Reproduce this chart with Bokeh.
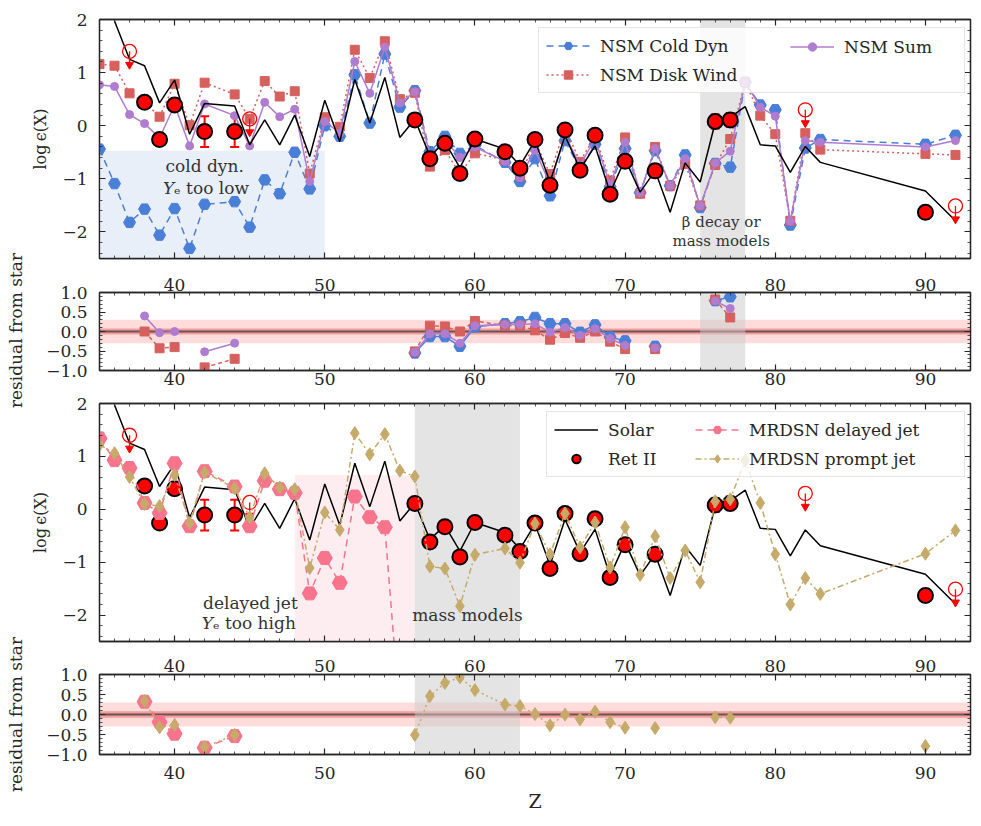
from bokeh.plotting import figure
from bokeh.models import (Range1d, LinearAxis, SingleIntervalTicker, CustomJSTickFormatter,
                          BoxAnnotation, Span, Label, Legend, LegendItem, Whisker, TeeHead,
                          ColumnDataSource)
from bokeh.layouts import column, row
from bokeh.embed import file_html
from bokeh.resources import INLINE

# ---------------- data ----------------
z_model = [35, 36, 37, 38, 39, 40, 41, 42, 44, 45, 46, 47, 48, 49, 50, 51, 52, 53, 54, 55, 56, 57, 58,
           59, 60, 62, 63, 64, 65, 66, 67, 68, 69, 70, 71, 72, 73, 74, 75, 76, 77, 78, 79, 80, 81, 82,
           83, 90, 92]
nsm_cold_dyn = [-0.44, -1.09, -1.82, -1.57, -2.06, -1.56, -2.31, -1.48, -1.43, -1.91, -1.02, -1.28,
                -0.50, -1.19, 0.00, -0.20, 0.96, 0.05, 1.35, 0.35, 0.66, -0.49, -0.20, -0.52, -0.37,
                -0.69, -1.05, -0.62, -1.32, -0.28, -0.82, -0.35, -1.15, -0.43, -1.26, -0.47, -1.13,
                -0.55, -1.54, -0.71, -0.78, 0.82, 0.39, 0.30, -1.87, -0.42, -0.26, -0.35, -0.18]
nsm_disk_wind = [1.16, 1.13, 0.61, 0.44, 0.17, 0.79, 0.01, 0.81, 0.59, 0.13, 0.84, 0.55, 0.65, -0.90,
                 0.16, -0.02, 1.43, 0.90, 1.59, 0.50, 0.62, -0.77, -0.46, -0.90, -0.52, -0.64, -0.95,
                 -0.29, -0.91, -0.04, -0.68, -0.18, -1.03, -0.22, -1.28, -0.40, -1.13, -0.72, -1.50,
                 -0.74, -0.25, 0.82, 0.19, -0.16, -1.79, -0.14, -0.45, -0.53, -0.55]
nsm_sum = [0.77, 0.74, 0.21, 0.04, -0.23, 0.39, -0.38, 0.41, 0.19, -0.38, 0.44, 0.17, 0.31, -1.05,
           0.08, -0.14, 1.21, 0.61, 1.48, 0.43, 0.64, -0.56, -0.27, -0.60, -0.40, -0.67, -0.98, -0.46,
           -1.10, -0.18, -0.74, -0.25, -1.11, -0.31, -1.26, -0.43, -1.13, -0.62, -1.51, -0.70, -0.48,
           0.82, 0.35, 0.18, -1.80, -0.28, -0.31, -0.40, -0.28]
mrdsn_prompt = [1.22, 1.06, 0.61, 0.10, 0.06, 0.65, -0.26, 0.70, 0.40, -0.15, 0.68, 0.41, 0.38, -1.11,
                -0.06, -0.39, 1.44, 1.04, 1.42, 0.73, 0.62, -1.08, -1.12, -1.83, -0.86, -0.74, -1.01,
                -0.27, -0.85, -0.08, -0.72, -0.25, -1.10, -0.34, -1.24, -0.51, -1.30, -0.78, -1.38,
                0.15, 0.19, 0.92, 0.12, -0.85, -1.80, -1.30, -1.60, -0.84, -0.40]
z_delayed = [35, 36, 37, 38, 39, 40, 41, 42, 44, 45, 46, 47, 48, 49, 50, 51, 52, 53, 54, 55]
mrdsn_delayed = [1.34, 0.93, 0.78, 0.12, -0.07, 0.87, -0.32, 0.72, 0.43, -0.32, 0.54, 0.38, 0.31,
                 -1.59, -0.92, -1.39, 0.24, -0.15, -0.34, -3.9]
z_solar = [36, 37, 38, 39, 40, 41, 42, 44, 45, 46, 47, 48, 49, 50, 51, 52, 53, 54, 55, 56, 57, 58, 59,
           60, 62, 63, 64, 65, 66, 67, 68, 69, 70, 71, 72, 73, 74, 75, 76, 77, 78, 79, 80, 81, 82, 83,
           90, 92]
solar = [1.97, 1.25, 1.13, 0.43, 0.86, -0.16, 0.42, 0.37, -0.36, 0.11, -0.36, 0.20, -0.58, 0.48, -0.30,
         0.87, 0.05, 0.91, -0.22, 0.12, -0.57, -0.31, -0.79, -0.25, -0.44, -0.75, -0.28, -1.06, -0.19,
         -0.82, -0.38, -1.26, -0.63, -1.25, -0.85, -1.63, -0.70, -1.06, 0.06, 0.16, 0.36, -0.36, -0.38,
         -0.88, -0.39, -0.69, -1.23, -1.79]
ret_z = [38, 39, 40, 42, 44, 56, 57, 58, 59, 60, 62, 63, 64, 65, 66, 67, 68, 69, 70, 72, 76, 77, 90]
ret_val = [0.44, -0.26, 0.39, -0.11, -0.11, 0.11, -0.62, -0.33, -0.90, -0.25, -0.49, -0.80, -0.26,
           -1.12, -0.08, -0.84, -0.18, -1.29, -0.67, -0.85, 0.08, 0.11, -1.63]
ret_err = [0.10, 0.05, 0.05, 0.29, 0.29, 0.10, 0.05, 0.05, 0.05, 0.05, 0.05, 0.05, 0.05, 0.05, 0.05,
           0.05, 0.05, 0.08, 0.12, 0.12, 0.13, 0.13, 0.12]
ul_z = [37, 45, 82, 92]
ul_val = [1.40, 0.13, 0.30, -1.51]

# ---------------- style ----------------
FONT = "DejaVu Serif"
INK = "#262626"
C_COLD = "#4a7fd8"
C_DISK = "#d6605e"
C_SUM = "#b07cd0"
C_DEL = "#f7748c"
C_PRO = "#c6aa6a"
ARROW = 0.25

STRIP = 26
FRAME_W = 871
LEFT = 73
RIGHT = 8

obs = dict(zip(ret_z, ret_val))


def resid(zs, vals):
    return [obs[z] - v if z in obs else float("nan") for z, v in zip(zs, vals)]


def style_axis(ax, show, digits=0, standoff=0):
    ax.major_tick_in = 6
    ax.major_tick_out = 0
    ax.minor_tick_in = 3
    ax.minor_tick_out = 0
    ax.axis_line_color = INK
    ax.axis_line_width = 1.3
    ax.major_tick_line_color = INK
    ax.major_tick_line_width = 1.2
    ax.minor_tick_line_color = INK
    ax.minor_tick_line_width = 0.8
    ax.major_label_text_font = FONT
    ax.major_label_text_font_size = "17px"
    ax.major_label_text_color = INK
    if show:
        ax.formatter = CustomJSTickFormatter(
            code="return tick.toFixed(%d).replace('-', '\\u2212');" % digits)
        ax.major_label_standoff = standoff
    else:
        ax.formatter = CustomJSTickFormatter(code="return '';")
        ax.major_label_standoff = 0


def make_panel(height, ylo, yhi, ystep, top, bottom, ydigits,
               above=None, below=None, ylabel=None, xlabel=None):
    p = figure(width=LEFT + FRAME_W + RIGHT, height=height,
               x_range=Range1d(35, 93), y_range=Range1d(ylo, yhi),
               x_axis_type=None, y_axis_type=None,
               output_backend="svg", toolbar_location=None,
               min_border_left=LEFT, min_border_right=RIGHT,
               min_border_top=top, min_border_bottom=bottom)
    p.outline_line_color = INK
    p.outline_line_width = 1.3
    for place, standoff in (("below", below), ("above", above)):
        ax = LinearAxis(ticker=SingleIntervalTicker(interval=10, num_minor_ticks=10))
        style_axis(ax, standoff is not None, 0, standoff or 0)
        if place == "below" and xlabel:
            ax.axis_label = xlabel
            ax.axis_label_text_font = FONT
            ax.axis_label_text_font_size = "19px"
            ax.axis_label_text_font_style = "normal"
            ax.axis_label_text_color = INK
            ax.axis_label_standoff = 8
        p.add_layout(ax, place)
    for place, show in (("left", True), ("right", False)):
        ax = LinearAxis(ticker=SingleIntervalTicker(interval=ystep, num_minor_ticks=5))
        style_axis(ax, show, ydigits, 12)
        if place == "left" and ylabel:
            ax.axis_label = ylabel
            ax.axis_label_text_font = FONT
            ax.axis_label_text_font_size = "16px"
            ax.axis_label_text_font_style = "normal"
            ax.axis_label_text_color = INK
            ax.axis_label_standoff = 9
        p.add_layout(ax, place)
    return p


def note(p, x, y, txt, size="17px", align="center", offset=0, style="normal"):
    p.add_layout(Label(x=x, y=y, x_offset=offset, text=txt, text_align=align,
                       text_baseline="middle", text_font=FONT, text_font_size=size,
                       text_font_style=style, text_color="#333333"))


def ye_note(p, x, y, rest, offset):
    note(p, x, y, "Y", align="right", offset=offset, style="italic")
    note(p, x, y, "\u2091 " + rest, align="left", offset=offset)


def resid_band(p):
    p.add_layout(BoxAnnotation(bottom=-0.3, top=0.3, fill_color="#ffdcdc", fill_alpha=1,
                               line_color=None, level="underlay"))
    p.add_layout(BoxAnnotation(bottom=-0.08, top=0.08, fill_color="#f59d9d", fill_alpha=1,
                               line_color=None, level="underlay"))
    p.add_layout(Span(location=0, dimension="width", line_color="#444444", line_width=2,
                      line_alpha=0.8, level="underlay"))


def model(p, zs, vals, color, dash, marker, size):
    lr = p.line(zs, vals, line_color=color, line_width=1.5, line_dash=dash)
    sr = p.scatter(zs, vals, marker=marker, size=size, fill_color=color, line_color=color)
    return [lr, sr]


def observations(p):
    src = ColumnDataSource(dict(z=ret_z, v=ret_val,
                                hi=[v + e for v, e in zip(ret_val, ret_err)],
                                lo=[v - e for v, e in zip(ret_val, ret_err)]))
    p.add_layout(Whisker(source=src, base="z", upper="hi", lower="lo", dimension="height",
                         line_color="red", line_width=2,
                         upper_head=TeeHead(size=9, line_color="red", line_width=2),
                         lower_head=TeeHead(size=9, line_color="red", line_width=2)))
    r = p.scatter("z", "v", source=src, marker="circle", size=15, fill_color="red",
                  line_color="black", line_width=2)
    tip = [v - ARROW for v in ul_val]
    p.segment(x0=ul_z, y0=ul_val, x1=ul_z, y1=tip, line_color="red", line_width=1.3)
    p.scatter(ul_z, tip, marker="inverted_triangle", size=8, fill_color="red", line_color="red")
    p.scatter(ul_z, ul_val, marker="circle", size=14, fill_color=None, line_color="red",
              line_width=1.3)
    return r


def legend_pair(p, col1, col2, label_width, loc1, loc2):
    box = Legend(items=col1, label_width=label_width, location=loc1)
    over = Legend(items=col2, location=loc2)
    for lg in (box, over):
        lg.orientation = "vertical"
        lg.label_text_font = FONT
        lg.label_text_font_size = "17px"
        lg.label_text_color = INK
        lg.glyph_width = 44
        lg.glyph_height = 21
        lg.label_standoff = 10
        lg.spacing = 8
        lg.padding = 7
        lg.margin = 0
    box.border_line_color = "#cccccc"
    box.border_line_width = 1
    box.background_fill_alpha = 0.8
    over.border_line_color = None
    over.background_fill_alpha = 0
    p.add_layout(box)
    p.add_layout(over)


# ---------------- panel 1: NSM ----------------
p1 = make_panel(268, -2.5, 2, 1, 19, 10, 0, ylabel="log\u2009\u03f5(X)")
p1.add_layout(BoxAnnotation(left=35, right=50, top=-0.47, fill_color="#e9eff9", fill_alpha=1,
                            line_color=None, level="underlay"))
p1.add_layout(BoxAnnotation(left=75, right=78, fill_color="#c9c9c9", fill_alpha=0.5,
                            line_color=None, level="underlay"))
note(p1, 42.0, -0.76, "cold dyn.")
ye_note(p1, 42.1, -1.17, "too low", -32)
note(p1, 76.4, -1.82, "\u03b2 decay or", "15px")
note(p1, 76.4, -2.17, "mass models", "15px")
r_cold = model(p1, z_model, nsm_cold_dyn, C_COLD, "7 5", "hex", 12)
r_disk = model(p1, z_model, nsm_disk_wind, C_DISK, "2 3", "square", 9)
r_sum = model(p1, z_model, nsm_sum, C_SUM, "solid", "circle", 8)
p1.line(z_solar, solar, line_color="black", line_width=1.5)
observations(p1)
legend_pair(p1,
            [LegendItem(label="NSM Cold Dyn", renderers=r_cold),
             LegendItem(label="NSM Disk Wind", renderers=r_disk)],
            [LegendItem(label="NSM Sum", renderers=r_sum)], 357, (439, 165), (691, 201))

# ---------------- panel 2: NSM residuals ----------------
p2 = make_panel(124, -1, 1, 0.5, 24, 22, 1, above=2, below=2)
resid_band(p2)
p2.add_layout(BoxAnnotation(left=75, right=78, fill_color="#c9c9c9", fill_alpha=0.5,
                            line_color=None, level="underlay"))
model(p2, z_model, resid(z_model, nsm_cold_dyn), C_COLD, "solid", "hex", 12)
model(p2, z_model, resid(z_model, nsm_disk_wind), C_DISK, "4 3", "square", 9)
model(p2, z_model, resid(z_model, nsm_sum), C_SUM, "solid", "circle", 8)

# ---------------- panel 3: MRDSN ----------------
p3 = make_panel(258, -2.5, 2, 1, 11, 9, 0, ylabel="log\u2009\u03f5(X)")
p3.add_layout(BoxAnnotation(left=48, right=56, top=0.65, fill_color="#fdecf0", fill_alpha=1,
                            line_color=None, level="underlay"))
p3.add_layout(BoxAnnotation(left=56, right=63, fill_color="#c9c9c9", fill_alpha=0.5,
                            line_color=None, level="underlay"))
note(p3, 45.05, -1.77, "delayed jet")
ye_note(p3, 44.95, -2.15, "too high", -36)
note(p3, 59.5, -1.99, "mass models")
r_solar = p3.line(z_solar, solar, line_color="black", line_width=1.5)
r_ret = observations(p3)
r_del = model(p3, z_delayed, mrdsn_delayed, C_DEL, "7 5", "hex", 15)
r_pro = model(p3, z_model, mrdsn_prompt, C_PRO, "6 3 2 3", "diamond", 13)
legend_pair(p3,
            [LegendItem(label="Solar", renderers=[r_solar]),
             LegendItem(label="Ret II", renderers=[r_ret])],
            [LegendItem(label="MRDSN delayed jet", renderers=r_del),
             LegendItem(label="MRDSN prompt jet", renderers=r_pro)], 349, (447, 164), (596, 172))

# ---------------- panel 4: MRDSN residuals ----------------
p4 = make_panel(170, -1, 1, 0.5, 24, 66, 1, above=3, below=12, xlabel="Z")
resid_band(p4)
p4.add_layout(BoxAnnotation(left=56, right=63, fill_color="#c9c9c9", fill_alpha=0.5,
                            line_color=None, level="underlay"))
model(p4, z_delayed, resid(z_delayed, mrdsn_delayed), C_DEL, "7 5", "hex", 15)
model(p4, z_model, resid(z_model, mrdsn_prompt), C_PRO, "2 3", "diamond", 13)

# ---------------- left label strip ----------------
total_h = 268 + 124 + 258 + 170
lf = figure(width=STRIP, height=total_h, x_range=Range1d(0, 1), y_range=Range1d(0, 1),
            x_axis_type=None, y_axis_type=None, output_backend="svg", toolbar_location=None,
            min_border=0)
lf.outline_line_color = None
for yc in (total_h - 330, total_h - 714):
    lf.add_layout(Label(x=15, y=yc, x_units="screen", y_units="screen", text="residual from star",
                        angle=90, angle_units="deg", text_align="center", text_baseline="middle",
                        text_font=FONT, text_font_size="17px", text_color=INK))

layout = row(lf, column(p1, p2, p3, p4))
open("out.html", "w").write(file_html(layout, INLINE))
